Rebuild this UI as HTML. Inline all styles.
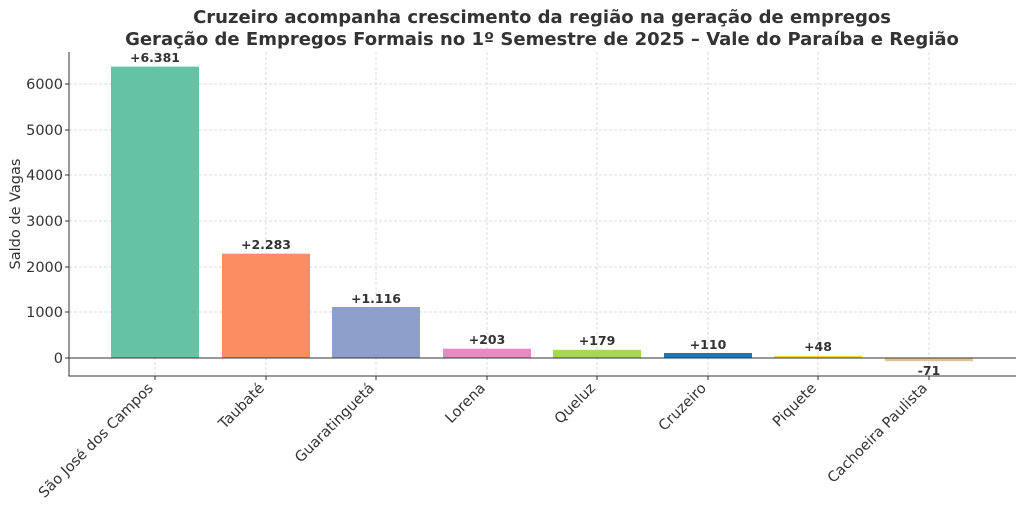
<!DOCTYPE html>
<html><head><meta charset="utf-8"><style>body{margin:0;background:#fff}svg{display:block}text{font-family:"DejaVu Sans","Liberation Sans",sans-serif;fill:#333}</style></head><body>
<svg width="1024" height="508" viewBox="0 0 1024 508" xmlns="http://www.w3.org/2000/svg">
<text x="542" y="23" text-anchor="middle" font-size="18" font-weight="bold">Cruzeiro acompanha crescimento da região na geração de empregos</text>
<text x="542" y="45" text-anchor="middle" font-size="18" font-weight="bold">Geração de Empregos Formais no 1º Semestre de 2025 – Vale do Paraíba e Região</text>
<g stroke="#d0d0d0" stroke-dasharray="3,2" stroke-width="0.8">
<line x1="69" x2="1016" y1="84" y2="84"/><line x1="69" x2="1016" y1="130" y2="130"/><line x1="69" x2="1016" y1="175" y2="175"/><line x1="69" x2="1016" y1="221" y2="221"/><line x1="69" x2="1016" y1="267" y2="267"/><line x1="69" x2="1016" y1="312" y2="312"/><line x1="69" x2="1016" y1="358" y2="358"/>
<line x1="155" x2="155" y1="52" y2="376"/><line x1="266" x2="266" y1="52" y2="376"/><line x1="376" x2="376" y1="52" y2="376"/><line x1="487" x2="487" y1="52" y2="376"/><line x1="597" x2="597" y1="52" y2="376"/><line x1="708" x2="708" y1="52" y2="376"/><line x1="818" x2="818" y1="52" y2="376"/><line x1="929" x2="929" y1="52" y2="376"/>
</g>
<rect x="111" y="66.6" width="88" height="291.4" fill="#66c2a5"/>
<rect x="222" y="253.7" width="88" height="104.3" fill="#fc8d62"/>
<rect x="332" y="307" width="88" height="51" fill="#8da0cb"/>
<rect x="443" y="348.7" width="88" height="9.3" fill="#e78ac3"/>
<rect x="553" y="349.8" width="88" height="8.2" fill="#a6d854"/>
<rect x="664" y="353" width="88" height="5" fill="#1f78b4"/>
<rect x="774" y="355.8" width="88" height="2.2" fill="#ffd92f"/>
<rect x="885" y="358" width="88" height="3.2" fill="#e5c494"/>
<line x1="69" x2="1016" y1="358" y2="358" stroke="#333" stroke-width="1"/>
<g font-size="12.5" font-weight="bold" text-anchor="middle">
<text x="155" y="62">+6.381</text><text x="266" y="249">+2.283</text><text x="376" y="303">+1.116</text><text x="487" y="344">+203</text><text x="597" y="345">+179</text><text x="708" y="349">+110</text><text x="818" y="351">+48</text><text x="929" y="375">-71</text>
</g>
<path d="M69 52V376H1016" fill="none" stroke="#333" stroke-width="1"/>
<g stroke="#333"><line x1="65" x2="69" y1="84" y2="84"/><line x1="65" x2="69" y1="130" y2="130"/><line x1="65" x2="69" y1="175" y2="175"/><line x1="65" x2="69" y1="221" y2="221"/><line x1="65" x2="69" y1="267" y2="267"/><line x1="65" x2="69" y1="312" y2="312"/><line x1="65" x2="69" y1="358" y2="358"/>
<line x1="155" x2="155" y1="376" y2="380"/><line x1="266" x2="266" y1="376" y2="380"/><line x1="376" x2="376" y1="376" y2="380"/><line x1="487" x2="487" y1="376" y2="380"/><line x1="597" x2="597" y1="376" y2="380"/><line x1="708" x2="708" y1="376" y2="380"/><line x1="818" x2="818" y1="376" y2="380"/><line x1="929" x2="929" y1="376" y2="380"/></g>
<g font-size="14.5" text-anchor="end">
<text x="63" y="89">6000</text><text x="63" y="135">5000</text><text x="63" y="180">4000</text><text x="63" y="226">3000</text><text x="63" y="272">2000</text><text x="63" y="317">1000</text><text x="63" y="363">0</text>
</g>
<text transform="translate(20,214) rotate(-90)" font-size="14.5" text-anchor="middle">Saldo de Vagas</text>
<g font-size="14.5" text-anchor="end">
<text transform="translate(154,389) rotate(-45)">São José dos Campos</text>
<text transform="translate(265,389) rotate(-45)">Taubaté</text>
<text transform="translate(375,389) rotate(-45)">Guaratinguetá</text>
<text transform="translate(486,389) rotate(-45)">Lorena</text>
<text transform="translate(596,389) rotate(-45)">Queluz</text>
<text transform="translate(707,389) rotate(-45)">Cruzeiro</text>
<text transform="translate(817,389) rotate(-45)">Piquete</text>
<text transform="translate(928,389) rotate(-45)">Cachoeira Paulista</text>
</g>
</svg>
</body></html>
